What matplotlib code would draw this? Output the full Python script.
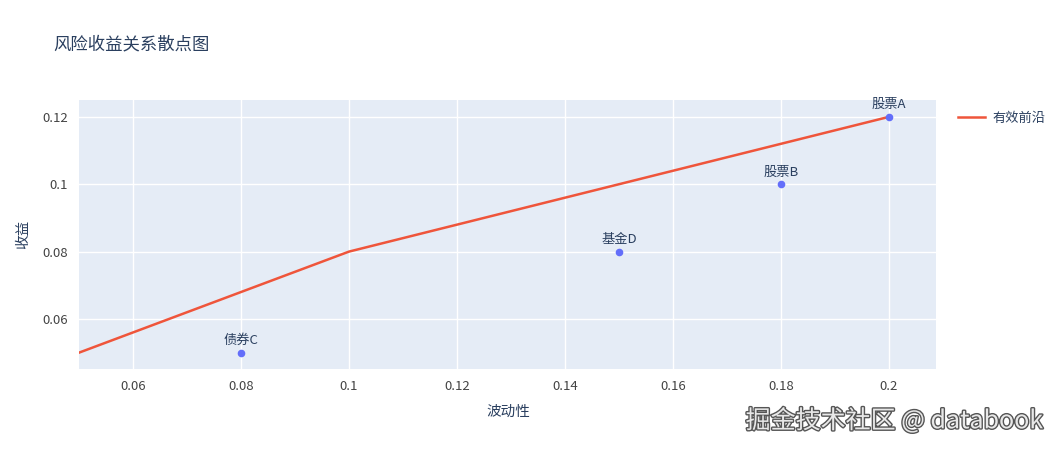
import matplotlib
matplotlib.use('Agg')
import matplotlib.pyplot as plt
import matplotlib.patheffects as pe

plt.rcParams['font.family'] = ['Noto Sans CJK SC', 'DejaVu Sans']

# 数据
names = ['股票A', '股票B', '债券C', '基金D']
vol = [0.20, 0.18, 0.08, 0.15]
ret = [0.12, 0.10, 0.05, 0.08]

front_x = [0.05, 0.10, 0.20]
front_y = [0.05, 0.08, 0.12]

xticks = [0.06, 0.08, 0.1, 0.12, 0.14, 0.16, 0.18, 0.2]
xlabels = ['0.06', '0.08', '0.1', '0.12', '0.14', '0.16', '0.18', '0.2']
yticks = [0.06, 0.08, 0.1, 0.12]
ylabels = ['0.06', '0.08', '0.1', '0.12']

txt = '#2a3f5f'
W, H = 1058, 450
fig = plt.figure(figsize=(W / 100, H / 100), dpi=100)
ax = fig.add_axes([79 / W, (H - 369) / H, (936 - 79) / W, (369 - 100) / H])
ax.set_facecolor('#E5ECF6')
for s in ax.spines.values():
    s.set_visible(False)

ax.plot(front_x, front_y, color='#EF553B', linewidth=1.8, label='有效前沿', zorder=3)
ax.scatter(vol, ret, s=20, color='#636EFA', zorder=4)
for n, x, y in zip(names, vol, ret):
    ax.annotate(n, (x, y), xytext=(0, 4), textcoords='offset points',
                ha='center', va='bottom', fontsize=9.5, color=txt, zorder=5)

ax.set_xlim(0.05, 0.2087)
ax.set_ylim(0.04515, 0.1250)
ax.set_xticks(xticks, xlabels)
ax.set_yticks(yticks, ylabels)
ax.grid(True, color='white', linewidth=1)
ax.set_axisbelow(True)
ax.tick_params(length=0, labelsize=9.5, labelcolor='#444444', pad=8)

ax.set_xlabel('波动性', fontsize=10.5, color=txt)
ax.set_ylabel('收益', fontsize=10.5, color=txt)
ax.xaxis.set_label_coords((508 - 79) / 857, -(405 - 369) / 269)
ax.yaxis.set_label_coords(-(79 - 30) / 857, (369 - 234) / 269)

fig.text(53 / W, 1 - 44 / H, '风险收益关系散点图', fontsize=12.5, color=txt, va='center')

ax.legend(loc='upper left', bbox_to_anchor=(1.012, 1.0), frameon=False,
          fontsize=9.5, labelcolor=txt, handlelength=2.0, handletextpad=0.6)

fig.text(1043 / W, 1 - 421 / H, '掘金技术社区 @ databook', fontsize=18, color='#e8e8e8',
         ha='right', va='center',
         path_effects=[pe.withStroke(linewidth=2, foreground='#555555')])

fig.savefig('out.png', dpi=100)
